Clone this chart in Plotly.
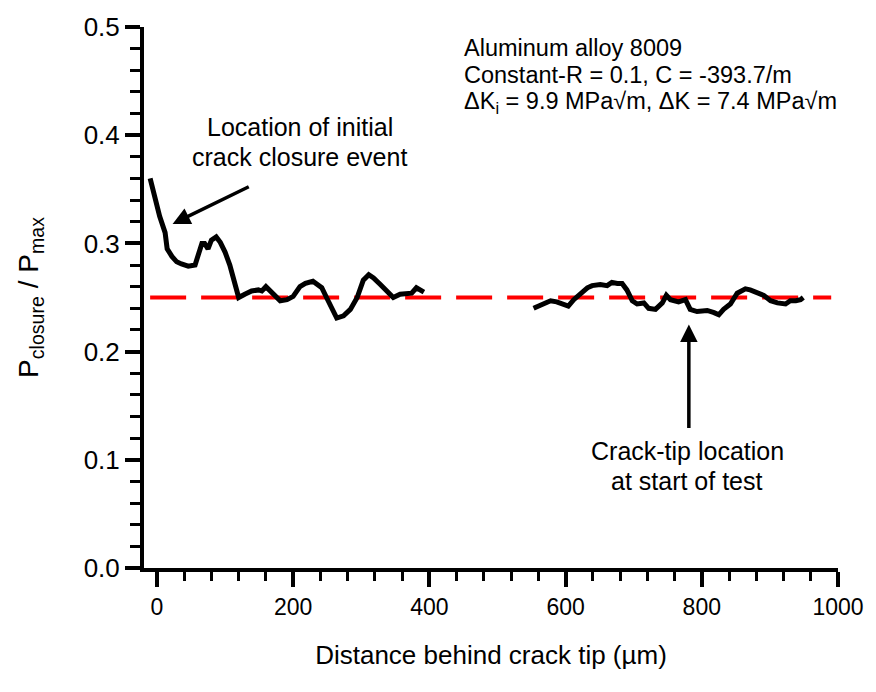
import plotly.graph_objects as go

# Crack closure measurements behind the crack tip (two scanned regions)
dist_a = [-10, -3, 4, 12, 15, 22, 29, 36, 46, 56, 61, 66, 70, 75, 80, 87, 93, 100, 107, 115,
          120, 129, 139, 149, 154, 160, 169, 176, 181, 191, 200, 210, 218, 229, 235, 242,
          249, 257, 264, 274, 284, 294, 303, 311, 318, 328, 338, 347, 357, 367, 374, 381,
          387, 392]
ratio_a = [0.360, 0.341, 0.325, 0.310, 0.295, 0.288, 0.283, 0.281, 0.279, 0.280, 0.292,
           0.300, 0.300, 0.295, 0.303, 0.306, 0.301, 0.292, 0.280, 0.262, 0.250, 0.253,
           0.256, 0.257, 0.256, 0.260, 0.254, 0.249, 0.247, 0.248, 0.251, 0.260, 0.263,
           0.265, 0.262, 0.259, 0.250, 0.239, 0.231, 0.233, 0.239, 0.250, 0.266, 0.271,
           0.268, 0.262, 0.256, 0.250, 0.253, 0.254, 0.254, 0.259, 0.257, 0.255]

dist_b = [553, 565, 578, 587, 597, 604, 612, 622, 632, 639, 651, 661, 668, 676, 683, 690,
          698, 705, 715, 722, 732, 742, 748, 754, 766, 776, 783, 793, 808, 818, 825, 832,
          842, 852, 864, 871, 881, 891, 901, 911, 923, 930, 938, 945, 949]
ratio_b = [0.240, 0.243, 0.247, 0.246, 0.244, 0.242, 0.248, 0.254, 0.259, 0.261, 0.262,
           0.261, 0.264, 0.263, 0.263, 0.257, 0.247, 0.244, 0.245, 0.240, 0.239, 0.245,
           0.252, 0.248, 0.246, 0.248, 0.239, 0.237, 0.238, 0.236, 0.234, 0.239, 0.244,
           0.254, 0.258, 0.257, 0.254, 0.252, 0.247, 0.245, 0.244, 0.247, 0.247, 0.248,
           0.250]

# Mean closure level
mean_x = [-10, 990]
mean_y = [0.25, 0.25]

x_ticks = [0, 200, 400, 600, 800, 1000]
y_ticks = [0.0, 0.1, 0.2, 0.3, 0.4, 0.5]

info_lines = ["Aluminum alloy 8009",
              "Constant-R = 0.1, C = -393.7/m",
              "\u0394K<sub>i</sub> = 9.9 MPa\u221am, \u0394K = 7.4 MPa\u221am"]
info_y = [0.481, 0.4555, 0.430]

FONT = "Liberation Sans, Arial, Helvetica, sans-serif"
TXT = dict(color="black", family=FONT)

fig = go.Figure()
fig.add_trace(go.Scatter(x=mean_x, y=mean_y, mode="lines",
                         line=dict(color="#ff0000", width=4, dash="36px,15px"),
                         hoverinfo="skip"))
fig.add_trace(go.Scatter(x=dist_a, y=ratio_a, mode="lines",
                         line=dict(color="black", width=5)))
fig.add_trace(go.Scatter(x=dist_b, y=ratio_b, mode="lines",
                         line=dict(color="black", width=5)))

axis_common = dict(showgrid=False, zeroline=False, showline=True, linecolor="black",
                   linewidth=4, ticks="outside", ticklen=15, tickwidth=3.5,
                   tickcolor="black")

fig.update_xaxes(range=[-19, 1000], tickvals=x_ticks, ticktext=[str(v) for v in x_ticks],
                 minor=dict(dtick=40, tick0=0, ticks="outside", ticklen=9, tickwidth=2.5,
                            tickcolor="black"),
                 tickfont=dict(size=23, **TXT),
                 title=dict(text="Distance behind crack tip (\u00b5m)",
                            font=dict(size=26, **TXT), standoff=28),
                 **axis_common)
fig.update_yaxes(range=[0, 0.5], tickvals=y_ticks, ticktext=[f"{v:.1f}" for v in y_ticks],
                 minor=dict(dtick=0.02, tick0=0, ticks="outside", ticklen=10, tickwidth=2.5,
                            tickcolor="black"),
                 tickfont=dict(size=26, **TXT),
                 title=dict(text="P<sub>closure</sub> / P<sub>max</sub>",
                            font=dict(size=28, **TXT), standoff=38),
                 **axis_common)

# Arrows
fig.add_annotation(x=23, y=0.318, ax=137, ay=0.353, xref="x", yref="y", axref="x", ayref="y",
                   text="", showarrow=True, arrowhead=2, arrowsize=1.0, arrowwidth=3.5,
                   arrowcolor="black")
fig.add_annotation(x=781, y=0.225, ax=781, ay=0.128, xref="x", yref="y", axref="x", ayref="y",
                   text="", showarrow=True, arrowhead=2, arrowsize=1.0, arrowwidth=3.5,
                   arrowcolor="black")

# Labels
for txt, yy in zip(["Location of initial", "crack closure event"], [0.4075, 0.3795]):
    fig.add_annotation(x=210, y=yy, xref="x", yref="y", showarrow=False, text=txt,
                       font=dict(size=25, **TXT))
for txt, yy in zip(["Crack-tip location", "at start of test"], [0.108, 0.080]):
    fig.add_annotation(x=779, y=yy, xref="x", yref="y", showarrow=False, text=txt,
                       font=dict(size=25, **TXT))
for txt, yy in zip(info_lines, info_y):
    fig.add_annotation(x=448, y=yy, xref="x", yref="y", showarrow=False, xanchor="left",
                       text=txt, font=dict(size=23.5, **TXT))

fig.update_layout(width=876, height=692, showlegend=False,
                  margin=dict(l=144, r=38, t=18, b=124),
                  plot_bgcolor="white", paper_bgcolor="white",
                  font=dict(family=FONT, color="black"))

fig.write_html("out.html")
